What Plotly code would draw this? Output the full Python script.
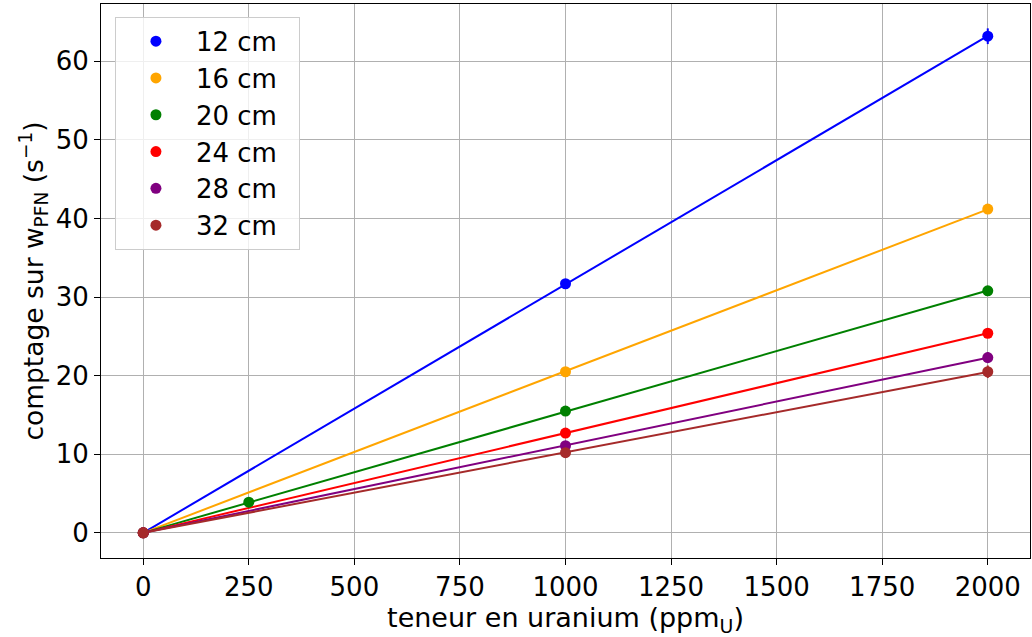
import plotly.graph_objects as go

labels = ["12 cm", "16 cm", "20 cm", "24 cm", "28 cm", "32 cm"]
colors = ["blue", "orange", "green", "red", "purple", "brown"]

x_12 = [0, 1000, 2000]
y_12 = [0, 31.7, 63.2]
e_12 = [0.1, 0.5, 1.0]

x_16 = [0, 1000, 2000]
y_16 = [0, 20.5, 41.2]
e_16 = [0.1, 0.3, 0.4]

x_20 = [0, 250, 1000, 2000]
y_20 = [0, 3.9, 15.5, 30.8]
e_20 = [0.1, 0.2, 0.3, 0.4]

x_24 = [0, 1000, 2000]
y_24 = [0, 12.7, 25.4]
e_24 = [0.1, 0.3, 0.4]

x_28 = [0, 1000, 2000]
y_28 = [0, 11.1, 22.3]
e_28 = [0.1, 0.4, 0.7]

x_32 = [0, 1000, 2000]
y_32 = [0, 10.2, 20.5]
e_32 = [0.1, 0.4, 0.8]

x_ticks = [0, 250, 500, 750, 1000, 1250, 1500, 1750, 2000]
y_ticks = [0, 10, 20, 30, 40, 50, 60]

fit_x = [0, 2000]

series = [
    (x_12, y_12, e_12),
    (x_16, y_16, e_16),
    (x_20, y_20, e_20),
    (x_24, y_24, e_24),
    (x_28, y_28, e_28),
    (x_32, y_32, e_32),
]

FONT = "DejaVu Sans"

fig = go.Figure()

for (xs, ys, es), lab, col in zip(series, labels, colors):
    # least-squares slope through origin
    num = sum(a * b for a, b in zip(xs, ys))
    den = sum(a * a for a in xs)
    slope = num / den
    fig.add_trace(go.Scatter(
        x=fit_x, y=[slope * v for v in fit_x], mode="lines",
        line=dict(color=col, width=2), showlegend=False, hoverinfo="skip",
    ))

for (xs, ys, es), lab, col in zip(series, labels, colors):
    fig.add_trace(go.Scatter(
        x=xs, y=ys, mode="markers", name=lab + "\u00a0\u00a0",
        marker=dict(color=col, size=11),
        error_y=dict(type="data", array=es, color=col, thickness=2, width=0),
        legendgroup=lab,
    ))

fig.update_layout(
    width=1032, height=637,
    paper_bgcolor="white", plot_bgcolor="white",
    font=dict(family=FONT, color="black", size=26),
    margin=dict(l=101, r=2, t=4, b=79, autoexpand=False),
    legend=dict(
        x=0.015, y=0.977, xanchor="left", yanchor="top",
        bgcolor="rgba(255,255,255,0.8)", bordercolor="#cccccc", borderwidth=1,
        font=dict(family=FONT, size=26, color="black"), tracegroupgap=0, itemwidth=70,
    ),
    showlegend=True,
)

fig.update_xaxes(
    range=[-100, 2100],
    tickvals=x_ticks,
    showgrid=True, gridcolor="#b0b0b0", gridwidth=1,
    showline=True, linecolor="black", linewidth=1, mirror=True,
    ticks="outside", ticklen=6, tickcolor="black",
    tickfont=dict(family=FONT, size=26, color="black"), zeroline=False,
    title=dict(text="teneur en uranium (ppm<sub>U</sub>)",
               font=dict(family=FONT, size=27, color="black"), standoff=4),
)
fig.update_yaxes(
    range=[-3.2, 67.3],
    tickvals=y_ticks,
    showgrid=True, gridcolor="#b0b0b0", gridwidth=1,
    showline=True, linecolor="black", linewidth=1, mirror=True,
    ticks="outside", ticklen=6, tickcolor="black",
    tickfont=dict(family=FONT, size=26, color="black"), zeroline=False,
    title=dict(text="comptage sur w<sub>PFN</sub> (s<sup>−1</sup>)",
               font=dict(family=FONT, size=26.5, color="black"), standoff=4),
)

fig.write_html(
    "out.html",
    config={"displayModeBar": False},
    post_script="document.body.style.margin='0px';document.body.style.overflow='hidden';",
)
